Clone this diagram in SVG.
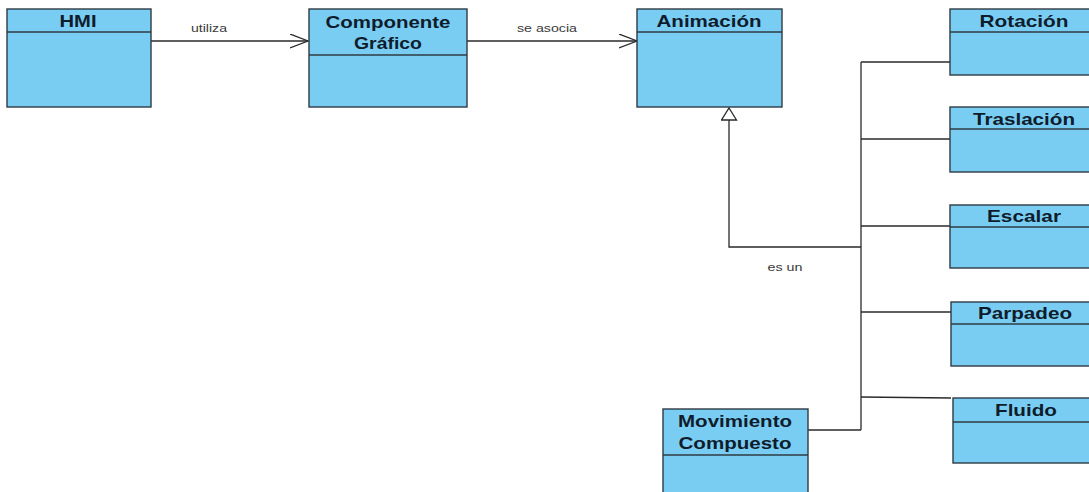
<svg xmlns="http://www.w3.org/2000/svg" width="1089" height="492" viewBox="0 0 1089 492">
  <style>
    .cls { fill: #7acdf2; stroke: #2e3b44; stroke-width: 1.4; }
    .div { stroke: #2e3b44; stroke-width: 1.3; fill: none; }
    .title { font-family: "Liberation Sans", Arial, sans-serif; font-weight: bold; font-size: 17px; fill: #0e1c2c; text-anchor: middle; }
    .lbl { font-family: "Liberation Sans", Arial, sans-serif; font-size: 11.5px; fill: #3a3a3a; text-anchor: middle; }
    .edge { stroke: #2a2a2a; stroke-width: 1.3; fill: none; }
  </style>
  <defs>
    <marker id="open" markerUnits="userSpaceOnUse" markerWidth="22" markerHeight="18" refX="18" refY="7" orient="auto">
      <path d="M0,0 L18,7 L0,14" fill="none" stroke="#2a2a2a" stroke-width="1.3"/>
    </marker>
    <marker id="gen" markerUnits="userSpaceOnUse" markerWidth="16" markerHeight="19" refX="13" refY="8" orient="auto">
      <path d="M1,0.5 L13,8 L1,15.5 Z" fill="#ffffff" stroke="#2a2a2a" stroke-width="1.3"/>
    </marker>
  </defs>

  <rect width="1089" height="492" fill="#ffffff"/>

  <!-- connectors -->
  <g id="connectors">
    <path class="edge" d="M151,41 H308" marker-end="url(#open)"/>
    <text class="lbl" x="209" y="32" textLength="36" lengthAdjust="spacingAndGlyphs">utiliza</text>
    <path class="edge" d="M467,41 H637" marker-end="url(#open)"/>
    <text class="lbl" x="547" y="32" textLength="60" lengthAdjust="spacingAndGlyphs">se asocia</text>

    <!-- generalization tree -->
    <path class="edge" d="M861,247 H729 V108" marker-end="url(#gen)"/>
    <path class="edge" d="M861,62 V430"/>
    <path class="edge" d="M861,62 H950"/>
    <path class="edge" d="M861,139 H950"/>
    <path class="edge" d="M861,226 H950"/>
    <path class="edge" d="M861,312 H951"/>
    <path class="edge" d="M861,397 L951,398"/>
    <path class="edge" d="M808,430 H861"/>
    <text class="lbl" x="785" y="271" textLength="35" lengthAdjust="spacingAndGlyphs">es un</text>
  </g>

  <!-- classes -->
  <g id="hmi">
    <rect class="cls" x="7" y="9" width="144" height="98"/>
    <line class="div" x1="7" y1="32" x2="151" y2="32"/>
    <text class="title" x="78" y="27" textLength="37" lengthAdjust="spacingAndGlyphs">HMI</text>
  </g>

  <g id="componente-grafico">
    <rect class="cls" x="309" y="9" width="158" height="98"/>
    <line class="div" x1="309" y1="55" x2="467" y2="55"/>
    <text class="title" x="388" y="28" textLength="125" lengthAdjust="spacingAndGlyphs">Componente</text>
    <text class="title" x="388" y="49" textLength="68" lengthAdjust="spacingAndGlyphs">Gráfico</text>
  </g>

  <g id="animacion">
    <rect class="cls" x="637" y="9" width="145" height="98"/>
    <line class="div" x1="637" y1="32" x2="782" y2="32"/>
    <text class="title" x="709" y="27" textLength="105" lengthAdjust="spacingAndGlyphs">Animación</text>
  </g>

  <g id="rotacion">
    <rect class="cls" x="950" y="9" width="148" height="66"/>
    <line class="div" x1="950" y1="32" x2="1098" y2="32"/>
    <text class="title" x="1024" y="27" textLength="89" lengthAdjust="spacingAndGlyphs">Rotación</text>
  </g>

  <g id="traslacion">
    <rect class="cls" x="950" y="107" width="148" height="65"/>
    <line class="div" x1="950" y1="129" x2="1098" y2="129"/>
    <text class="title" x="1024" y="125" textLength="102" lengthAdjust="spacingAndGlyphs">Traslación</text>
  </g>

  <g id="escalar">
    <rect class="cls" x="950" y="205" width="148" height="63"/>
    <line class="div" x1="950" y1="227" x2="1098" y2="227"/>
    <text class="title" x="1024" y="222" textLength="74" lengthAdjust="spacingAndGlyphs">Escalar</text>
  </g>

  <g id="parpadeo">
    <rect class="cls" x="951" y="302" width="148" height="64"/>
    <line class="div" x1="951" y1="324" x2="1099" y2="324"/>
    <text class="title" x="1025" y="319" textLength="94" lengthAdjust="spacingAndGlyphs">Parpadeo</text>
  </g>

  <g id="fluido">
    <rect class="cls" x="953" y="398" width="148" height="65"/>
    <line class="div" x1="953" y1="422" x2="1101" y2="422"/>
    <text class="title" x="1026" y="416" textLength="62" lengthAdjust="spacingAndGlyphs">Fluido</text>
  </g>

  <g id="movimiento-compuesto">
    <rect class="cls" x="663" y="409" width="145" height="95"/>
    <line class="div" x1="663" y1="455" x2="808" y2="455"/>
    <text class="title" x="735" y="427" textLength="114" lengthAdjust="spacingAndGlyphs">Movimiento</text>
    <text class="title" x="735" y="449" textLength="113" lengthAdjust="spacingAndGlyphs">Compuesto</text>
  </g>
</svg>
